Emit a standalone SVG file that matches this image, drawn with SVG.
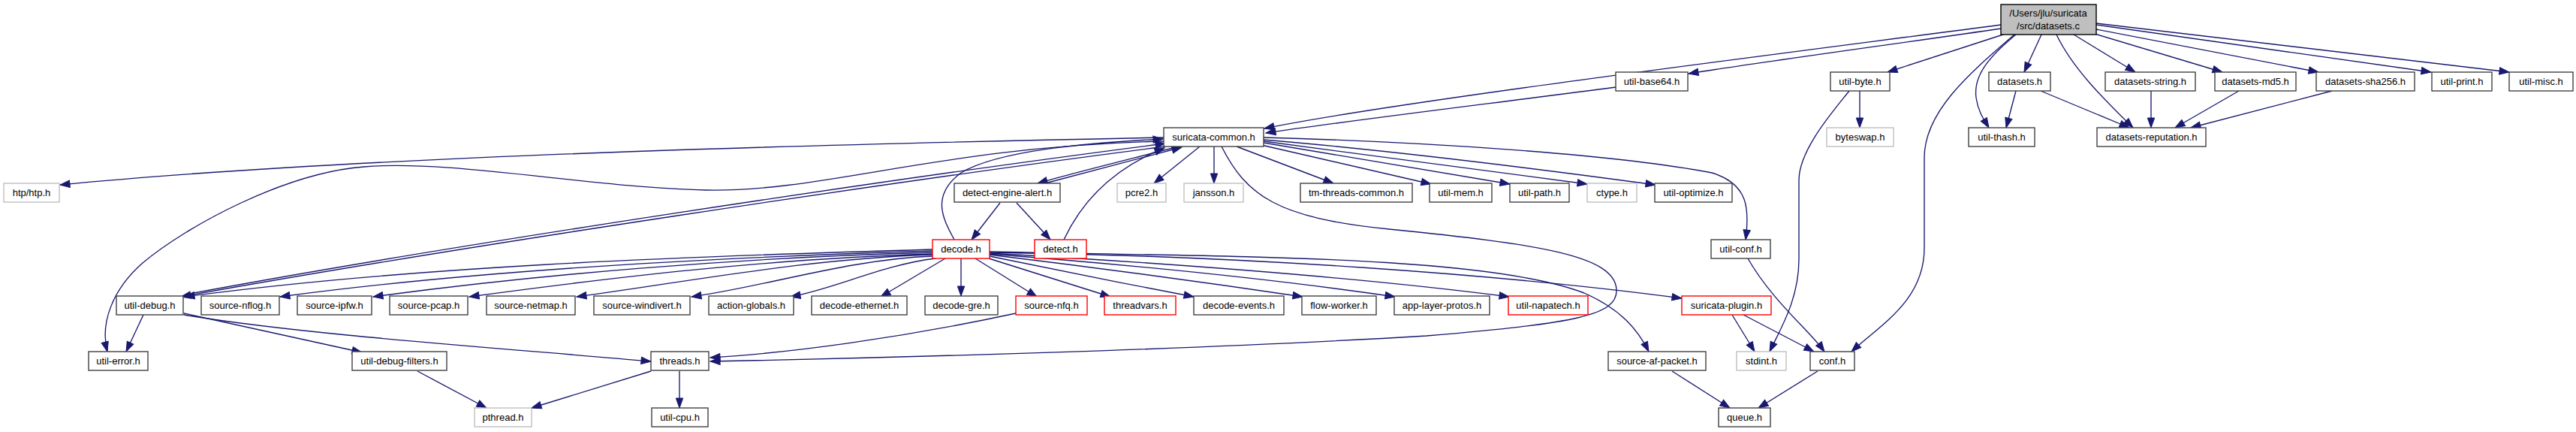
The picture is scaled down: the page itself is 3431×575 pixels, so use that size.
<svg xmlns="http://www.w3.org/2000/svg" width="3431" height="575" viewBox="0 0 3431 575">
<style>
.n rect{fill:#fff;stroke:#404040;stroke-width:1.4}
.r rect{fill:#fff;stroke:#ff0000;stroke-width:1.4}
.g rect{fill:#fff;stroke:#bfbfbf;stroke-width:1.4}
.root rect{fill:#bfbfbf;stroke:#000;stroke-width:1.4}
text{font-family:"Liberation Sans",Arial,Helvetica,sans-serif;font-size:13px;text-anchor:middle;fill:#000}
#edges path{fill:none;stroke:#191970;stroke-width:1.35;marker-end:url(#ah)}
</style>
<defs>
<marker id="ah" markerUnits="userSpaceOnUse" markerWidth="14" markerHeight="10" refX="13" refY="4.7" orient="auto" overflow="visible">
<path d="M0,0 L13,4.7 L0,9.4 Z" fill="#191970" stroke="#191970" stroke-width="1"/>
</marker>
</defs>
<rect width="3431" height="575" fill="#fff"/>
<g id="edges">
<path d="M2665,33 C2400,68 1860,135 1684,171"/>
<path d="M2665,38 C2550,55 2350,82 2249,98"/>
<path d="M2668,46 L2514,96"/>
<path d="M2683,46 C2620,100 2563,150 2563,210 L2563,330 C2563,400 2505,432 2466,468"/>
<path d="M2685,46 C2650,75 2628,100 2632,130 C2635,150 2643,160 2649,170"/>
<path d="M2719,46 L2696,96"/>
<path d="M2739,46 C2760,90 2800,130 2841,170"/>
<path d="M2762,46 L2844,96"/>
<path d="M2790,45 L2960,96"/>
<path d="M2792,39 L3088,96"/>
<path d="M2792,33 L3238,96"/>
<path d="M2792,31 L3342,96"/>
<path d="M2152,116 C2000,136 1800,160 1686,177"/>
<path d="M2477,121 L2477,170"/>
<path d="M2463,121 C2440,150 2396,200 2396,240 L2396,345 C2396,400 2370,440 2357,468"/>
<path d="M2685,121 L2672,170"/>
<path d="M2718,121 L2836,170"/>
<path d="M2865,121 L2865,170"/>
<path d="M2982,121 L2897,170"/>
<path d="M3106,121 L2918,170"/>
<path d="M1550,183 C1200,190 500,205 80,246"/>
<path d="M1550,188 C1250,195 1100,256 940,253 C790,250 600,212 485,222 C380,230 250,300 190,350 C150,385 133,430 143,468"/>
<path d="M1552,195 C1200,240 600,330 241,395"/>
<path d="M247,392 C600,326 1200,236 1552,191"/>
<path d="M1566,196 C1500,213 1430,230 1382,244"/>
<path d="M1392,244 C1440,231 1510,213 1574,196"/>
<path d="M1271,319 C1255,290 1240,260 1280,230 C1330,200 1450,190 1549,185"/>
<path d="M1417,319 C1440,270 1480,225 1551,197"/>
<path d="M1598,195 L1537,244"/>
<path d="M1617,195 L1617,244"/>
<path d="M1647,195 L1776,244"/>
<path d="M1680,193 L1906,245"/>
<path d="M1683,190 L2011,245"/>
<path d="M1683,188 L2114,245"/>
<path d="M1683,186 C1850,200 2050,225 2205,246"/>
<path d="M1683,183 C1900,189 2150,205 2280,230 C2330,245 2330,280 2325,319"/>
<path d="M1627,195 C1660,260 1700,290 1850,305 C2050,325 2150,340 2153,385 C2155,420 2100,430 1900,447 C1600,465 1200,476 946,481"/>
<path d="M1332,270 L1294,319"/>
<path d="M1354,270 L1399,319"/>
<path d="M1242,332 C893,342 545,355 246,395"/>
<path d="M1242,334 C938,343 634,360 373,395"/>
<path d="M1242,336 C981,343 720,365 497,395"/>
<path d="M1242,338 C1026,344 810,370 625,395"/>
<path d="M1242,339 C1076,344 910,376 768,395"/>
<path d="M1242,341 C1130,345 1017,382 921,395"/>
<path d="M1246,344 C1177,352 1110,385 1053,395"/>
<path d="M1259,344 L1173,395"/>
<path d="M1280,344 L1280,394"/>
<path d="M1299,344 L1381,395"/>
<path d="M1317,344 L1479,395"/>
<path d="M1318,341 C1400,358 1500,378 1590,395"/>
<path d="M1318,339 C1450,355 1600,375 1735,395"/>
<path d="M1318,338 C1500,352 1700,372 1858,395"/>
<path d="M1318,337 C1550,350 1800,368 2010,395"/>
<path d="M1318,336 C1650,340 2000,365 2240,397"/>
<path d="M1318,335 C1650,342 1980,340 2110,390 C2160,412 2182,440 2196,468"/>
<path d="M191,419 L168,468"/>
<path d="M245,417 L482,469"/>
<path d="M245,419 C400,445 650,462 867,481"/>
<path d="M1353,417 C1200,450 1050,470 946,476"/>
<path d="M556,494 L648,543"/>
<path d="M867,494 L708,543"/>
<path d="M905,494 L905,543"/>
<path d="M2328,344 C2360,400 2410,440 2430,468"/>
<path d="M2307,419 L2337,468"/>
<path d="M2322,419 L2416,468"/>
<path d="M2227,494 L2304,543"/>
<path d="M2421,494 L2342,543"/>
</g>
<g id="node-datasets-c" class="root"><rect x="2665" y="6" width="127" height="40"/><text x="2728" y="22">/Users/jlu/suricata</text><text x="2728" y="39">/src/datasets.c</text></g>
<g id="node-util-base64" class="n"><rect x="2152" y="96" width="96" height="25"/><text x="2200" y="113">util-base64.h</text></g>
<g id="node-util-byte" class="n"><rect x="2438" y="96" width="79" height="25"/><text x="2477.5" y="113">util-byte.h</text></g>
<g id="node-datasets-h" class="n"><rect x="2649" y="96" width="82" height="25"/><text x="2690" y="113">datasets.h</text></g>
<g id="node-datasets-string" class="n"><rect x="2804" y="96" width="120" height="25"/><text x="2864" y="113">datasets-string.h</text></g>
<g id="node-datasets-md5" class="n"><rect x="2950" y="96" width="108" height="25"/><text x="3004" y="113">datasets-md5.h</text></g>
<g id="node-datasets-sha256" class="n"><rect x="3085" y="96" width="131" height="25"/><text x="3150.5" y="113">datasets-sha256.h</text></g>
<g id="node-util-print" class="n"><rect x="3239" y="96" width="80" height="25"/><text x="3279" y="113">util-print.h</text></g>
<g id="node-util-misc" class="n"><rect x="3342" y="96" width="85" height="25"/><text x="3384.5" y="113">util-misc.h</text></g>
<g id="node-suricata-common" class="n"><rect x="1550" y="170" width="133" height="25"/><text x="1616.5" y="187">suricata-common.h</text></g>
<g id="node-byteswap" class="g"><rect x="2433" y="170" width="89" height="25"/><text x="2477.5" y="187">byteswap.h</text></g>
<g id="node-util-thash" class="n"><rect x="2622" y="170" width="88" height="25"/><text x="2666" y="187">util-thash.h</text></g>
<g id="node-datasets-reputation" class="n"><rect x="2793" y="170" width="145" height="25"/><text x="2865.5" y="187">datasets-reputation.h</text></g>
<g id="node-htp" class="g"><rect x="5" y="244" width="74" height="25"/><text x="42" y="261">htp/htp.h</text></g>
<g id="node-detect-engine-alert" class="n"><rect x="1271" y="244" width="141" height="25"/><text x="1341.5" y="261">detect-engine-alert.h</text></g>
<g id="node-pcre2" class="g"><rect x="1488" y="244" width="65" height="25"/><text x="1520.5" y="261">pcre2.h</text></g>
<g id="node-jansson" class="g"><rect x="1577" y="244" width="79" height="25"/><text x="1616.5" y="261">jansson.h</text></g>
<g id="node-tm-threads-common" class="n"><rect x="1732" y="244" width="149" height="25"/><text x="1806.5" y="261">tm-threads-common.h</text></g>
<g id="node-util-mem" class="n"><rect x="1904" y="244" width="83" height="25"/><text x="1945.5" y="261">util-mem.h</text></g>
<g id="node-util-path" class="n"><rect x="2011" y="244" width="79" height="25"/><text x="2050.5" y="261">util-path.h</text></g>
<g id="node-ctype" class="g"><rect x="2114" y="244" width="66" height="25"/><text x="2147" y="261">ctype.h</text></g>
<g id="node-util-optimize" class="n"><rect x="2204" y="244" width="103" height="25"/><text x="2255.5" y="261">util-optimize.h</text></g>
<g id="node-decode" class="r"><rect x="1242" y="319" width="76" height="25"/><text x="1280" y="336">decode.h</text></g>
<g id="node-detect" class="r"><rect x="1378" y="319" width="69" height="25"/><text x="1412.5" y="336">detect.h</text></g>
<g id="node-util-conf" class="n"><rect x="2279" y="319" width="79" height="25"/><text x="2318.5" y="336">util-conf.h</text></g>
<g id="node-util-debug" class="n"><rect x="155" y="394" width="89" height="25"/><text x="199.5" y="411">util-debug.h</text></g>
<g id="node-source-nflog" class="n"><rect x="268" y="394" width="104" height="25"/><text x="320" y="411">source-nflog.h</text></g>
<g id="node-source-ipfw" class="n"><rect x="396" y="394" width="99" height="25"/><text x="445.5" y="411">source-ipfw.h</text></g>
<g id="node-source-pcap" class="n"><rect x="519" y="394" width="104" height="25"/><text x="571" y="411">source-pcap.h</text></g>
<g id="node-source-netmap" class="n"><rect x="648" y="394" width="118" height="25"/><text x="707" y="411">source-netmap.h</text></g>
<g id="node-source-windivert" class="n"><rect x="791" y="394" width="128" height="25"/><text x="855" y="411">source-windivert.h</text></g>
<g id="node-action-globals" class="n"><rect x="944" y="394" width="113" height="25"/><text x="1000.5" y="411">action-globals.h</text></g>
<g id="node-decode-ethernet" class="n"><rect x="1081" y="394" width="127" height="25"/><text x="1144.5" y="411">decode-ethernet.h</text></g>
<g id="node-decode-gre" class="n"><rect x="1232" y="394" width="97" height="25"/><text x="1280.5" y="411">decode-gre.h</text></g>
<g id="node-source-nfq" class="r"><rect x="1353" y="394" width="95" height="25"/><text x="1400.5" y="411">source-nfq.h</text></g>
<g id="node-threadvars" class="r"><rect x="1471" y="394" width="95" height="25"/><text x="1518.5" y="411">threadvars.h</text></g>
<g id="node-decode-events" class="n"><rect x="1590" y="394" width="120" height="25"/><text x="1650" y="411">decode-events.h</text></g>
<g id="node-flow-worker" class="n"><rect x="1734" y="394" width="99" height="25"/><text x="1783.5" y="411">flow-worker.h</text></g>
<g id="node-app-layer-protos" class="n"><rect x="1857" y="394" width="127" height="25"/><text x="1920.5" y="411">app-layer-protos.h</text></g>
<g id="node-util-napatech" class="r"><rect x="2009" y="394" width="106" height="25"/><text x="2062" y="411">util-napatech.h</text></g>
<g id="node-suricata-plugin" class="r"><rect x="2240" y="394" width="119" height="25"/><text x="2299.5" y="411">suricata-plugin.h</text></g>
<g id="node-util-error" class="n"><rect x="118" y="468" width="79" height="25"/><text x="157.5" y="485">util-error.h</text></g>
<g id="node-util-debug-filters" class="n"><rect x="469" y="468" width="126" height="25"/><text x="532" y="485">util-debug-filters.h</text></g>
<g id="node-threads" class="n"><rect x="867" y="468" width="77" height="25"/><text x="905.5" y="485">threads.h</text></g>
<g id="node-source-af-packet" class="n"><rect x="2142" y="468" width="130" height="25"/><text x="2207" y="485">source-af-packet.h</text></g>
<g id="node-stdint" class="g"><rect x="2313" y="468" width="66" height="25"/><text x="2346" y="485">stdint.h</text></g>
<g id="node-conf" class="n"><rect x="2411" y="468" width="59" height="25"/><text x="2440.5" y="485">conf.h</text></g>
<g id="node-pthread" class="g"><rect x="632" y="543" width="76" height="25"/><text x="670" y="560">pthread.h</text></g>
<g id="node-util-cpu" class="n"><rect x="868" y="543" width="75" height="25"/><text x="905.5" y="560">util-cpu.h</text></g>
<g id="node-queue" class="n"><rect x="2289" y="543" width="69" height="25"/><text x="2323.5" y="560">queue.h</text></g>
</svg>
